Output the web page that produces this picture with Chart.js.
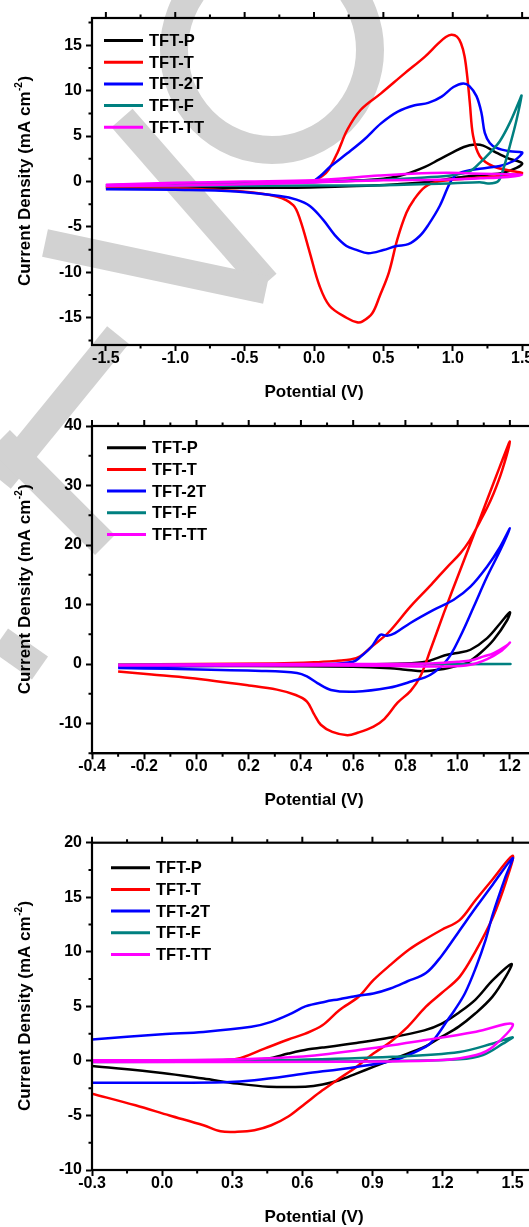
<!DOCTYPE html>
<html>
<head>
<meta charset="utf-8">
<script src="https://cdn.jsdelivr.net/npm/chart.js@4.4.0/dist/chart.umd.min.js"></script>
<style>
  html, body { margin: 0; padding: 0; background: #fff; overflow: hidden; width: 529px; height: 1227px; }
  #wm { position: absolute; left: 0; top: 0; }
  canvas { position: absolute; left: 0; }
</style>
</head>
<body>
<svg id="wm" width="529" height="1227">
  <g fill="none" stroke="#d2d2d2" stroke-width="28">
    <ellipse cx="272" cy="50" rx="98" ry="100"/>
    <line x1="122" y1="118" x2="266" y2="283"/>
    <line x1="45" y1="243" x2="266" y2="290"/>
    <line x1="118" y1="335" x2="0" y2="480"/>
    <line x1="0" y1="440" x2="105" y2="545"/>
    <line x1="0" y1="640" x2="40" y2="668"/>
  </g>
</svg>
<canvas id="cv1" width="545" height="409" style="top:0"></canvas>
<canvas id="cv2" width="545" height="409" style="top:409px"></canvas>
<canvas id="cv3" width="545" height="412" style="top:818px"></canvas>
<script>
// ---- 패널 1 : [-1.5, 1.5] V ----
const x1Ticks = [-1.5, -1.0, -0.5, 0, 0.5, 1.0, 1.5];
const y1Ticks = [-15, -10, -5, 0, 5, 10, 15];
const cv1P = [[-1.5,-0.4],[-1.0,-0.25],[-0.5,-0.15],[0,-0.05],[0.3,0.1],[0.5,0.3],[0.6,0.55],[0.7,1.0],[0.8,1.6],[0.9,2.4],[1.0,3.2],[1.08,3.8],[1.16,4.07],[1.22,3.95],[1.3,3.3],[1.4,2.55],[1.5,2.0],
  [1.46,1.5],[1.36,0.95],[1.25,0.75],[1.1,0.55],[1.0,0.35],[0.83,-0.04],[0.6,-0.3],[0.47,-0.4],[0.2,-0.55],[-0.25,-0.7],[-1.0,-0.72],[-1.5,-0.7]];
const cv1T = [[0,0.05],[0.06,0.6],[0.105,1.29],[0.17,3.2],[0.24,5.7],[0.337,7.9],[0.483,9.7],[0.653,11.9],[0.8,13.75],[0.896,15.2],[0.95,15.9],[0.99,16.15],[1.03,15.95],[1.06,15.2],[1.085,13.8],[1.105,11.5],[1.123,8.66],[1.147,5.0],[1.195,2.78],[1.29,1.68],[1.435,1.13],[1.5,0.95],
  [1.45,0.75],[1.3,0.55],[1.138,0.37],[0.896,0],[0.8,-0.6],[0.72,-2.0],[0.666,-3.45],[0.6,-6.4],[0.54,-10.0],[0.474,-12.6],[0.42,-14.5],[0.35,-15.4],[0.31,-15.5],[0.234,-15.0],[0.113,-13.7],[0.04,-11.5],[-0.03,-7.85],[-0.1,-4.2],[-0.15,-2.6],[-0.27,-1.65],[-0.515,-1.1],[-1.0,-0.73],[-1.5,-0.6]];
const cv1T2 = [[0,0.05],[0.06,0.8],[0.118,1.65],[0.24,3.1],[0.36,4.6],[0.483,6.4],[0.604,7.7],[0.726,8.4],[0.823,8.65],[0.92,9.35],[1.005,10.4],[1.075,10.8],[1.12,10.5],[1.171,9.4],[1.207,7.55],[1.231,5.35],[1.267,4.25],[1.315,3.7],[1.411,3.33],[1.5,3.2],
  [1.483,2.8],[1.435,2.23],[1.339,1.7],[1.123,1.25],[1.027,0.77],[0.98,-0.15],[0.906,-2.7],[0.823,-4.8],[0.762,-6.0],[0.68,-6.9],[0.594,-7.1],[0.5,-7.55],[0.39,-7.9],[0.3,-7.5],[0.234,-7.1],[0.15,-5.9],[0.065,-4.2],[-0.03,-2.7],[-0.126,-2.0],[-0.247,-1.6],[-0.563,-1.1],[-1.0,-0.92],[-1.5,-0.84]];
const cv1F = [[-1.5,-0.45],[-1.0,-0.3],[-0.5,-0.2],[0,-0.05],[0.5,0.2],[0.8,0.45],[1.0,0.7],[1.123,1.13],[1.195,2.05],[1.267,3.15],[1.339,4.43],[1.411,6.45],[1.483,9.0],[1.496,9.46],
  [1.46,6.8],[1.411,3.9],[1.363,1.3],[1.327,0.03],[1.255,-0.22],[1.195,-0.07],[1.0,-0.2],[0.5,-0.4],[0,-0.45],[-1.0,-0.5],[-1.5,-0.5]];
const cv1TT = [[-1.5,-0.35],[-1.0,-0.15],[-0.5,0.0],[0,0.15],[0.47,0.65],[0.7,0.85],[0.955,0.95],[1.2,0.85],[1.4,0.8],[1.5,0.75],
  [1.4,0.5],[1.2,0.35],[0.9,0.2],[0.5,0.15],[0,-0.1],[-0.5,-0.3],[-1.0,-0.45],[-1.5,-0.5]];

// ---- 패널 2 : [-0.3, 1.2] V ----
const x2Ticks = [-0.4, -0.2, 0, 0.2, 0.4, 0.6, 0.8, 1.0, 1.2];
const y2Ticks = [-10, 0, 10, 20, 30, 40];
const cv2P = [[-0.3,-0.3],[0.2,-0.15],[0.6,-0.05],[0.8,0.1],[0.883,0.44],[0.921,1.0],[0.96,1.56],[0.998,1.85],[1.049,2.4],[1.113,4.36],[1.164,6.9],[1.2,8.7],
  [1.19,7.4],[1.138,4.07],[1.087,1.85],[1.036,0.2],[0.998,-0.3],[0.947,-0.85],[0.87,-1.2],[0.8,-0.95],[0.742,-0.7],[0.6,-0.45],[0.2,-0.35],[-0.3,-0.35]];
const cv2T = [[-0.3,-0.1],[0.0,0.0],[0.3,0.1],[0.45,0.3],[0.54,0.55],[0.59,0.75],[0.627,1.3],[0.67,2.9],[0.735,5.3],[0.819,9.66],[0.9,13.4],[0.96,16.3],[1.01,18.6],[1.045,20.7],[1.075,23.1],[1.11,26],[1.138,28.7],[1.17,32.5],[1.2,37.4],
  [1.16,33],[1.113,27.6],[1.06,21.5],[1.01,15.8],[0.947,8.55],[0.896,2.4],[0.857,-2.1],[0.82,-4.5],[0.77,-6.5],[0.72,-9.2],[0.678,-10.5],[0.62,-11.5],[0.578,-11.95],[0.52,-11.4],[0.476,-10.2],[0.45,-8.4],[0.423,-6.3],[0.38,-5.2],[0.308,-4.3],[0.2,-3.6],[-0.025,-2.35],[-0.171,-1.75],[-0.3,-1.24]];
const cv2T2 = [[-0.3,-0.55],[0.2,-0.2],[0.5,0.0],[0.6,0.4],[0.627,1.17],[0.67,2.9],[0.704,4.9],[0.73,4.75],[0.76,5.2],[0.819,6.9],[0.908,9.1],[0.985,10.8],[1.049,13.0],[1.113,16.4],[1.16,19.5],[1.2,22.8],
  [1.164,19.2],[1.113,14.7],[1.062,9.66],[1.01,4.63],[0.96,0.72],[0.896,-1.8],[0.825,-2.9],[0.735,-4.0],[0.605,-4.65],[0.515,-4.35],[0.463,-3.2],[0.423,-2.07],[0.385,-1.5],[0.25,-1.15],[-0.1,-0.8],[-0.3,-0.68]];
const cv2F = [[-0.3,-0.1],[0.5,-0.05],[1.0,0.0],[1.2,0.0],[0.8,-0.05],[-0.3,-0.15]];
const cv2TT = [[-0.3,-0.1],[0.5,0.0],[0.9,0.1],[0.998,0.4],[1.049,0.6],[1.1,1.28],[1.138,1.84],[1.19,3.2],[1.2,3.6],
  [1.164,2.1],[1.113,0.83],[1.049,-0.12],[0.96,-0.4],[0.7,-0.3],[0.3,-0.25],[-0.3,-0.25]];

// ---- 패널 3 : [-0.3, 1.5] V ----
const x3Ticks = [-0.3, 0, 0.3, 0.6, 0.9, 1.2, 1.5];
const y3Ticks = [-10, -5, 0, 5, 10, 15, 20];
const cv3P = [[-0.3,-0.05],[0.0,0.0],[0.3,0.05],[0.45,0.2],[0.54,0.67],[0.626,1.06],[0.686,1.22],[0.831,1.65],[0.977,2.14],[1.122,2.8],[1.195,3.4],[1.268,4.4],[1.34,5.6],[1.416,7.42],[1.495,8.88],
  [1.47,7.7],[1.413,5.87],[1.34,4.34],[1.268,3.12],[1.195,2.2],[1.122,1.28],[1.05,0.67],[0.977,0.06],[0.904,-0.55],[0.831,-1.16],[0.758,-1.77],[0.686,-2.17],[0.613,-2.36],[0.454,-2.36],[0.322,-2.08],[0.177,-1.62],[0,-1.1],[-0.3,-0.47]];
const cv3T = [[-0.3,0.0],[0.0,0.0],[0.2,0.05],[0.322,0.2],[0.438,1.13],[0.54,1.96],[0.613,2.5],[0.686,3.27],[0.758,4.65],[0.842,5.9],[0.904,7.4],[0.977,8.8],[1.057,10.2],[1.12,11.07],[1.195,12.0],[1.273,12.9],[1.34,14.7],[1.413,16.6],[1.5,18.8],
  [1.474,16.6],[1.416,13.2],[1.34,10.0],[1.273,7.7],[1.195,6.2],[1.129,4.97],[1.05,3.1],[0.977,1.74],[0.904,0.67],[0.831,-0.55],[0.758,-1.62],[0.686,-2.7],[0.613,-3.9],[0.54,-5.1],[0.467,-5.9],[0.395,-6.36],[0.322,-6.5],[0.25,-6.45],[0.177,-5.9],[0.032,-5.0],[-0.114,-4.07],[-0.3,-3.0]];
const cv3T2 = [[-0.3,1.96],[0,2.45],[0.177,2.66],[0.382,3.13],[0.467,3.58],[0.554,4.36],[0.613,5.0],[0.698,5.43],[0.758,5.66],[0.842,6.0],[0.904,6.18],[0.977,6.64],[1.05,7.3],[1.129,8.05],[1.195,9.6],[1.268,11.8],[1.344,14.1],[1.416,16.2],[1.5,18.6],
  [1.47,16.9],[1.416,13.5],[1.383,11.0],[1.344,8.63],[1.296,6.2],[1.25,4.6],[1.222,3.75],[1.165,2.0],[1.129,1.3],[1.0,0.1],[0.831,-0.55],[0.613,-1.16],[0.395,-1.77],[0.267,-1.95],[0,-2.0],[-0.3,-2.0]];
const cv3F = [[-0.3,0.0],[0.3,0.05],[0.554,0.08],[0.985,0.37],[1.273,0.82],[1.416,1.6],[1.5,2.16],
  [1.46,1.6],[1.373,0.54],[1.273,0.15],[1.0,0.0],[0.5,-0.07],[-0.3,-0.1]];
const cv3TT = [[-0.3,0.05],[0.2,0.1],[0.583,0.38],[0.842,1.0],[1.129,1.92],[1.344,2.68],[1.5,3.38],
  [1.416,1.3],[1.344,0.54],[1.2,0.08],[0.8,-0.07],[-0.3,-0.1]];

const seriesNames = ['TFT-P', 'TFT-T', 'TFT-2T', 'TFT-F', 'TFT-TT'];
const seriesColors = ['#000000', '#ff0000', '#0000ff', '#008080', '#ff00ff'];

const FONT = '"Liberation Sans", Arial, sans-serif';

const panels = [
  { id: 'cv1', series: [cv1P, cv1T, cv1T2, cv1F, cv1TT], xMin: -1.6, xMax: 1.6, yMin: -18, yMax: 18,
    xTicks: x1Ticks, yTicks: y1Ticks, xMinor: 0.25, yMinor: 2.5, padTop: 18, xH: 57.6, padBottom: 6.4, legendX: 12, legendY: 22.5 },
  { id: 'cv2', series: [cv2P, cv2T, cv2T2, cv2F, cv2TT], xMin: -0.4, xMax: 1.3, yMin: -15, yMax: 40,
    xTicks: x2Ticks, yTicks: y2Ticks, xMinor: 0.1, yMinor: 5, padTop: 17, xH: 57.3, padBottom: 7.4, legendX: 15, legendY: 21.7 },
  { id: 'cv3', series: [cv3P, cv3T, cv3T2, cv3F, cv3TT], xMin: -0.3, xMax: 1.6, yMin: -10, yMax: 20,
    xTicks: x3Ticks, yTicks: y3Ticks, xMinor: 0.15, yMinor: 2.5, padTop: 24.7, xH: 57.6, padBottom: 2.4, legendX: 19, legendY: 25 }
];

function minorValues(majors, step, min, max) {
  const out = [];
  let v = majors[0];
  while (v - step >= min - 1e-9) v -= step;
  for (; v <= max + 1e-9; v += step) {
    if (!majors.some(m => Math.abs(m - v) < 1e-6)) out.push(v);
  }
  return out;
}

// 테두리, 보조 눈금, 범례, y축 제목
const framePlugin = {
  id: 'frame',
  afterDraw(chart, args, opts) {
    const p = opts.panel;
    const {ctx, chartArea: a, scales: {x, y}} = chart;
    ctx.save();
    ctx.strokeStyle = '#000';
    ctx.lineWidth = 2.2;
    ctx.strokeRect(a.left, a.top, a.right - a.left, a.bottom - a.top);

    ctx.lineWidth = 2;
    ctx.beginPath();
    const xm = minorValues(p.xTicks, p.xMinor, p.xMin, p.xMax);
    const ym = minorValues(p.yTicks, p.yMinor, p.yMin, p.yMax);
    xm.forEach(v => {
      const px = x.getPixelForValue(v);
      ctx.moveTo(px, a.bottom); ctx.lineTo(px, a.bottom + 3.5);
      ctx.moveTo(px, a.top); ctx.lineTo(px, a.top - 3.5);
    });
    p.xTicks.forEach(v => {
      const px = x.getPixelForValue(v);
      ctx.moveTo(px, a.top); ctx.lineTo(px, a.top - 6);
    });
    ym.forEach(v => {
      const py = y.getPixelForValue(v);
      ctx.moveTo(a.left, py); ctx.lineTo(a.left - 3.5, py);
      ctx.moveTo(a.right, py); ctx.lineTo(a.right + 3.5, py);
    });
    p.yTicks.forEach(v => {
      const py = y.getPixelForValue(v);
      ctx.moveTo(a.right, py); ctx.lineTo(a.right + 6, py);
    });
    ctx.stroke();

    // 범례
    ctx.font = 'bold 16.5px ' + FONT;
    ctx.textBaseline = 'middle';
    ctx.textAlign = 'left';
    seriesNames.forEach((name, i) => {
      const ly = a.top + p.legendY + i * 21.7;
      const lx = a.left + p.legendX;
      ctx.strokeStyle = seriesColors[i];
      ctx.lineWidth = 3;
      ctx.beginPath();
      ctx.moveTo(lx, ly); ctx.lineTo(lx + 39, ly);
      ctx.stroke();
      ctx.fillStyle = '#000';
      ctx.fillText(name, lx + 45, ly + 1);
    });

    // y축 제목 (위첨자 포함)
    const cy = (a.top + a.bottom) / 2;
    ctx.translate(25, cy);
    ctx.rotate(-Math.PI / 2);
    const main = 'Current Density (mA cm';
    const sup = '-2';
    const close = ')';
    ctx.font = 'bold 17px ' + FONT;
    const w1 = ctx.measureText(main).width;
    const w3 = ctx.measureText(close).width;
    ctx.font = 'bold 10px ' + FONT;
    const w2 = ctx.measureText(sup).width;
    let sx = -(w1 + w2 + w3) / 2;
    ctx.fillStyle = '#000';
    ctx.textBaseline = 'middle';
    ctx.font = 'bold 17px ' + FONT;
    ctx.fillText(main, sx, 0);
    ctx.font = 'bold 10px ' + FONT;
    ctx.fillText(sup, sx + w1 + 0.5, -6);
    ctx.font = 'bold 17px ' + FONT;
    ctx.fillText(close, sx + w1 + w2 + 1, 0);
    ctx.restore();
  }
};

panels.forEach(p => {
  const datasets = p.series.map((pts, i) => ({
    label: seriesNames[i],
    data: pts,
    borderColor: seriesColors[i],
    backgroundColor: seriesColors[i],
    borderWidth: 2.5,
    pointRadius: 0,
    showLine: true,
    tension: 0.35,
    fill: false,
    order: 5 - i
  }));
  new Chart(document.getElementById(p.id), {
    type: 'scatter',
    data: { datasets: datasets },
    options: {
      responsive: false,
      animation: false,
      events: [],
      devicePixelRatio: 1,
      layout: { padding: { left: 0, right: 9, top: p.padTop, bottom: p.padBottom } },
      plugins: { legend: { display: false }, tooltip: { enabled: false }, frame: { panel: p } },
      scales: {
        x: {
          type: 'linear', min: p.xMin, max: p.xMax,
          afterBuildTicks: s => { s.ticks = p.xTicks.map(v => ({ value: v })); },
          afterFit: s => { s.height = p.xH; },
          ticks: { font: { family: FONT, size: 16, weight: 'bold' }, color: '#000', padding: -2, maxRotation: 0, autoSkip: false,
            callback: v => Number(v).toFixed(1) },
          grid: { drawOnChartArea: false, drawTicks: true, tickLength: 6, tickWidth: 2, tickColor: '#000' },
          border: { display: true, color: '#000', width: 2 },
          title: { display: true, text: 'Potential (V)', color: '#000', font: { family: FONT, size: 17, weight: 'bold' }, padding: { top: 0, bottom: 0 } }
        },
        y: {
          type: 'linear', min: p.yMin, max: p.yMax,
          afterBuildTicks: s => { s.ticks = p.yTicks.map(v => ({ value: v })); },
          afterFit: s => { s.width = 92; },
          ticks: { font: { family: FONT, size: 16, weight: 'bold' }, color: '#000', padding: 4, autoSkip: false,
            callback: v => String(v) },
          grid: { drawOnChartArea: false, drawTicks: true, tickLength: 6, tickWidth: 2, tickColor: '#000' },
          border: { display: true, color: '#000', width: 2 }
        }
      }
    },
    plugins: [framePlugin]
  });
});
</script>
</body>
</html>
